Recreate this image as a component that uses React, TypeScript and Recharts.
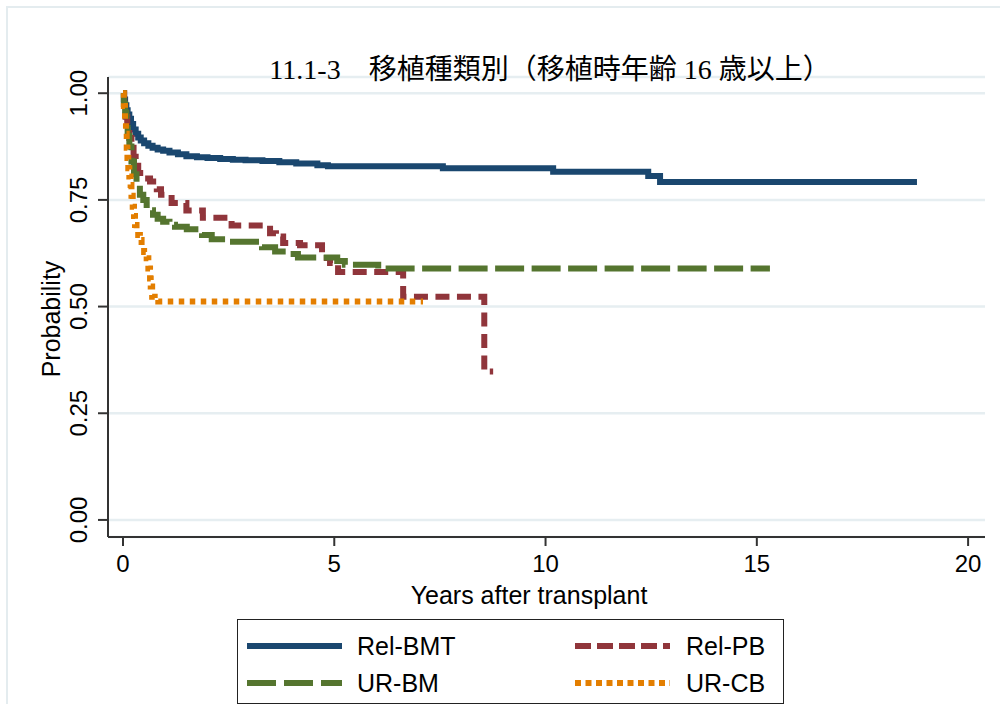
import React from "react";
import { CartesianGrid, Line, LineChart, XAxis, YAxis } from "recharts";

// Kaplan-Meier steps (years, survival probability)
const relBmtYears = [0, 0.02, 0.05, 0.08, 0.11, 0.15, 0.19, 0.24, 0.3, 0.36, 0.42, 0.5, 0.6, 0.7, 0.82, 0.95, 1.1, 1.3, 1.5, 1.75, 2.0, 2.3, 2.6, 2.9, 3.3, 3.7, 4.1, 4.6, 4.85, 7.57, 10.18, 12.43, 12.71, 18.79];
const relBmtSurv = [1.0, 0.985, 0.972, 0.96, 0.95, 0.94, 0.928, 0.915, 0.905, 0.896, 0.889, 0.883, 0.877, 0.872, 0.868, 0.865, 0.861, 0.857, 0.852, 0.85, 0.848, 0.846, 0.844, 0.843, 0.841, 0.838, 0.835, 0.831, 0.829, 0.824, 0.816, 0.806, 0.792, 0.792];

const relPbYears = [0, 0.03, 0.06, 0.1, 0.15, 0.2, 0.25, 0.3, 0.36, 0.48, 0.64, 0.8, 0.9, 1.15, 1.5, 1.89, 2.57, 3.48, 3.62, 3.79, 4.19, 4.71, 4.9, 5.09, 6.63, 8.55, 8.76];
const relPbSurv = [1.0, 0.97, 0.945, 0.92, 0.895, 0.872, 0.851, 0.83, 0.813, 0.8, 0.793, 0.775, 0.762, 0.743, 0.725, 0.708, 0.69, 0.672, 0.664, 0.649, 0.644, 0.614, 0.602, 0.581, 0.523, 0.348, 0.348];

const urBmYears = [0, 0.02, 0.05, 0.08, 0.11, 0.15, 0.2, 0.26, 0.32, 0.4, 0.48, 0.56, 0.64, 0.71, 0.82, 0.95, 1.1, 1.23, 1.51, 1.87, 2.1, 2.53, 3.29, 3.6, 3.95, 4.14, 5.07, 5.25, 6.04, 15.31];
const urBmSurv = [1.0, 0.975, 0.955, 0.93, 0.9, 0.875, 0.84, 0.81, 0.785, 0.762, 0.75, 0.738, 0.726, 0.715, 0.706, 0.699, 0.692, 0.687, 0.681, 0.668, 0.658, 0.652, 0.639, 0.629, 0.623, 0.615, 0.607, 0.598, 0.589, 0.589];

const urCbYears = [0, 0.02, 0.047, 0.07, 0.088, 0.105, 0.125, 0.15, 0.18, 0.2, 0.23, 0.26, 0.284, 0.32, 0.36, 0.4, 0.44, 0.5, 0.56, 0.6, 0.64, 0.656, 0.69, 0.75, 0.835, 7.1];
const urCbSurv = [1.0, 0.97, 0.94, 0.905, 0.872, 0.848, 0.824, 0.805, 0.785, 0.76, 0.734, 0.712, 0.691, 0.68, 0.668, 0.656, 0.644, 0.628, 0.613, 0.589, 0.566, 0.547, 0.523, 0.517, 0.512, 0.512];

const xTicks = [0, 5, 10, 15, 20];
const yTicks = [0, 0.25, 0.5, 0.75, 1];

const title = "11.1-3\u3000移植種類別（移植時年齢 16 歳以上）";

const toPoints = (years: number[], surv: number[]) =>
  years.map((t, i) => ({ t, s: surv[i] }));

const series = [
  { name: "Rel-BMT", data: toPoints(relBmtYears, relBmtSurv), color: "#1a476f", dash: undefined, legendDash: undefined },
  { name: "Rel-PB", data: toPoints(relPbYears, relPbSurv), color: "#90353b", dash: "14 7.5", legendDash: "16 6" },
  { name: "UR-BM", data: toPoints(urBmYears, urBmSurv), color: "#55752f", dash: "29 7.5", legendDash: "29 8" },
  { name: "UR-CB", data: toPoints(urCbYears, urCbSurv), color: "#e37e00", dash: "5.5 5.5", legendDash: "6 4.5" },
];

const sans = "'Liberation Sans', Arial, sans-serif";

const YTick = (props: any) => {
  const { x, y, payload } = props;
  const cx = x - 17;
  return (
    <text
      x={cx}
      y={y}
      transform={`rotate(-90, ${cx}, ${y})`}
      textAnchor="middle"
      dominantBaseline="central"
      fontSize={24}
      fontFamily={sans}
      fill="#000"
    >
      {Number(payload.value).toFixed(2)}
    </text>
  );
};

function Legend() {
  return (
    <div
      style={{
        position: "absolute",
        left: 237,
        top: 619,
        width: 547,
        height: 85,
        border: "1.5px solid #222",
        boxSizing: "border-box",
        fontFamily: sans,
        fontSize: 25,
      }}
    >
      {series.map((s, i) => {
        const col = i % 2;
        const row = Math.floor(i / 2);
        const sampleLeft = col === 0 ? 9 : 337;
        const textLeft = col === 0 ? 119 : 448;
        const cy = row === 0 ? 26 : 63;
        return (
          <React.Fragment key={s.name}>
            <svg
              width={95}
              height={10}
              style={{ position: "absolute", left: sampleLeft, top: cy - 5 }}
            >
              <line
                x1={0}
                y1={5}
                x2={95}
                y2={5}
                stroke={s.color}
                strokeWidth={6}
                strokeDasharray={s.legendDash}
              />
            </svg>
            <div
              style={{
                position: "absolute",
                left: textLeft,
                top: cy - 15,
                lineHeight: "30px",
                color: "#000",
                whiteSpace: "nowrap",
              }}
            >
              {s.name}
            </div>
          </React.Fragment>
        );
      })}
    </div>
  );
}

export default function App() {
  return (
    <div
      style={{
        position: "absolute",
        left: 0,
        top: 0,
        width: 1000,
        height: 704,
        overflow: "hidden",
        background: "#fff",
        fontFamily: sans,
      }}
    >
      <div
        style={{
          position: "absolute",
          left: 6,
          top: 6,
          width: 1010,
          height: 720,
          border: "2px solid #e4ecef",
          boxSizing: "border-box",
        }}
      />
      <div style={{ position: "absolute", left: 0, top: 0 }}>
        <LineChart
          width={1000}
          height={704}
          margin={{ top: 77, right: 15, bottom: 127, left: 48 }}
        >
          <CartesianGrid
            vertical={false}
            horizontal
            stroke="#e6eef1"
            strokeWidth={2.5}
          />
          <XAxis
            type="number"
            dataKey="t"
            domain={[-0.355, 20.4]}
            ticks={xTicks}
            allowDataOverflow
            height={40}
            tickSize={9}
            tickMargin={9}
            axisLine={{ stroke: "#333", strokeWidth: 2 }}
            tickLine={{ stroke: "#333", strokeWidth: 2 }}
            tick={{ fill: "#000", fontSize: 24, fontFamily: sans }}
            label={{
              content: () => (
                <text
                  x={529}
                  y={595}
                  textAnchor="middle"
                  dominantBaseline="central"
                  fontSize={25}
                  fontFamily={sans}
                  fill="#000"
                >
                  Years after transplant
                </text>
              ),
            }}
          />
          <YAxis
            type="number"
            domain={[-0.04, 1.038]}
            ticks={yTicks}
            allowDataOverflow
            width={60}
            tickSize={10}
            tickMargin={2}
            axisLine={{ stroke: "#333", strokeWidth: 2 }}
            tickLine={{ stroke: "#333", strokeWidth: 2 }}
            tick={<YTick />}
            label={{
              content: () => (
                <text
                  x={51}
                  y={319}
                  transform="rotate(-90, 51, 319)"
                  textAnchor="middle"
                  dominantBaseline="central"
                  fontSize={25}
                  fontFamily={sans}
                  fill="#000"
                >
                  Probability
                </text>
              ),
            }}
          />
          {series.map((s) => (
            <Line
              key={s.name}
              data={s.data}
              dataKey="s"
              name={s.name}
              type="stepAfter"
              stroke={s.color}
              strokeWidth={6}
              strokeDasharray={s.dash}
              strokeLinecap="butt"
              dot={false}
              activeDot={false}
              isAnimationActive={false}
            />
          ))}
        </LineChart>
      </div>
      <div
        style={{
          position: "absolute",
          left: 200,
          top: 54,
          width: 700,
          textAlign: "center",
          fontSize: 28,
          lineHeight: "32px",
          fontFamily: "'Liberation Serif', 'DejaVu Serif', 'Noto Sans CJK JP', serif",
          color: "#000",
          whiteSpace: "nowrap",
        }}
      >
        {title}
      </div>
      <Legend />
    </div>
  );
}
